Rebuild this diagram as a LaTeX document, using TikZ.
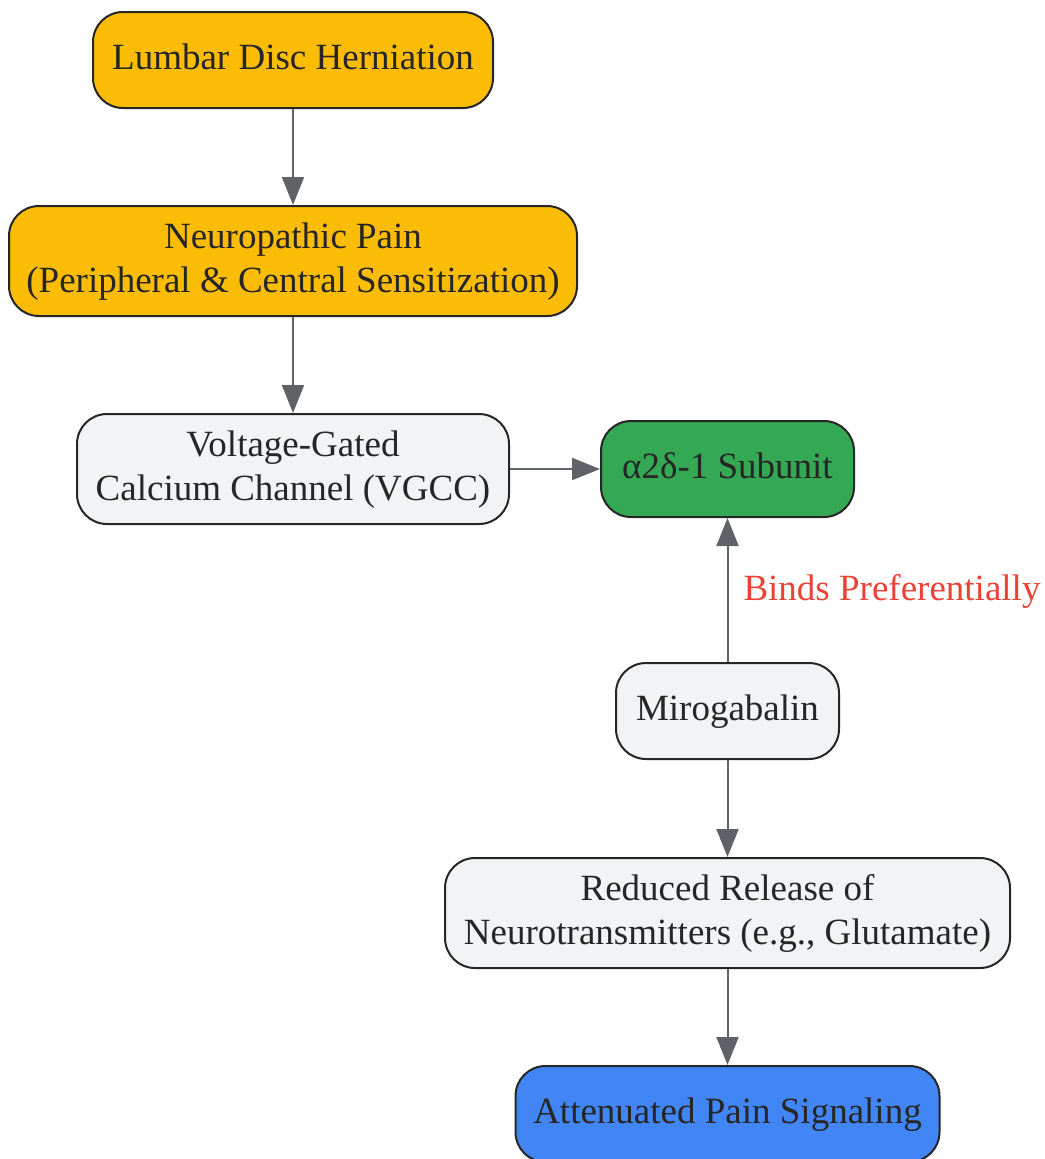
\documentclass[tikz,border=0pt]{standalone}
\usepackage{fontspec}
\setmainfont{Liberation Serif}
\usetikzlibrary{arrows.meta}
\definecolor{ygold}{HTML}{FBBC05}
\definecolor{ggreen}{HTML}{34A853}
\definecolor{bblue}{HTML}{4285F4}
\definecolor{lgray}{HTML}{F1F3F4}
\definecolor{agray}{HTML}{5F6368}
\definecolor{rred}{HTML}{EA4335}
\definecolor{tdark}{HTML}{262626}
\newcommand{\tstr}{\rule[-8pt]{0pt}{34.5pt}}
\begin{document}
\begin{tikzpicture}[x=1pt,y=-1pt,
  box/.style={draw=tdark, line width=2pt, rounded corners=30pt, align=center,
    text=tdark, font=\fontsize{37}{43.5}\selectfont, inner sep=0pt},
  conn/.style={draw=agray, line width=2pt, -{Triangle[length=28pt,width=22pt]}},
  lbl/.style={text=rred, font=\fontsize{37}{43.5}\selectfont, inner sep=0pt}]
\useasboundingbox (0,0) rectangle (1044,1159);
\node[box, fill=ygold, minimum width=400pt, minimum height=96pt] (ldh) at (293,60) {\tstr Lumbar Disc Herniation};
\node[box, fill=ygold, minimum width=568pt, minimum height=110pt] (np) at (293,261) {\tstr Neuropathic Pain\\\tstr(Peripheral \& Central Sensitization)};
\node[box, fill=lgray, minimum width=432pt, minimum height=110pt] (vgcc) at (293,469) {\tstr Voltage-Gated\\\tstr Calcium Channel (VGCC)};
\node[box, fill=ggreen, minimum width=253pt, minimum height=96pt] (sub) at (727.5,469) {\tstr α2δ-1 Subunit};
\node[box, fill=lgray, minimum width=223pt, minimum height=96pt] (miro) at (727.5,711) {\tstr Mirogabalin};
\node[box, fill=lgray, minimum width=565pt, minimum height=110pt] (rr) at (727.5,913) {\tstr Reduced Release of\\\tstr Neurotransmitters (e.g., Glutamate)};
\node[box, fill=bblue, minimum width=424pt, minimum height=96pt] (att) at (727.5,1114) {\tstr Attenuated Pain Signaling};
\draw[conn] (ldh) -- (np);
\draw[conn] (np) -- (vgcc);
\draw[conn] (vgcc) -- (sub);
\draw[conn] (miro) -- node[lbl, anchor=west, xshift=15pt, pos=0.49] (bp) {\tstr Binds Preferentially} (sub);
\draw[conn] (miro) -- (rr);
\draw[conn] (rr) -- (att);
\end{tikzpicture}
\end{document}
